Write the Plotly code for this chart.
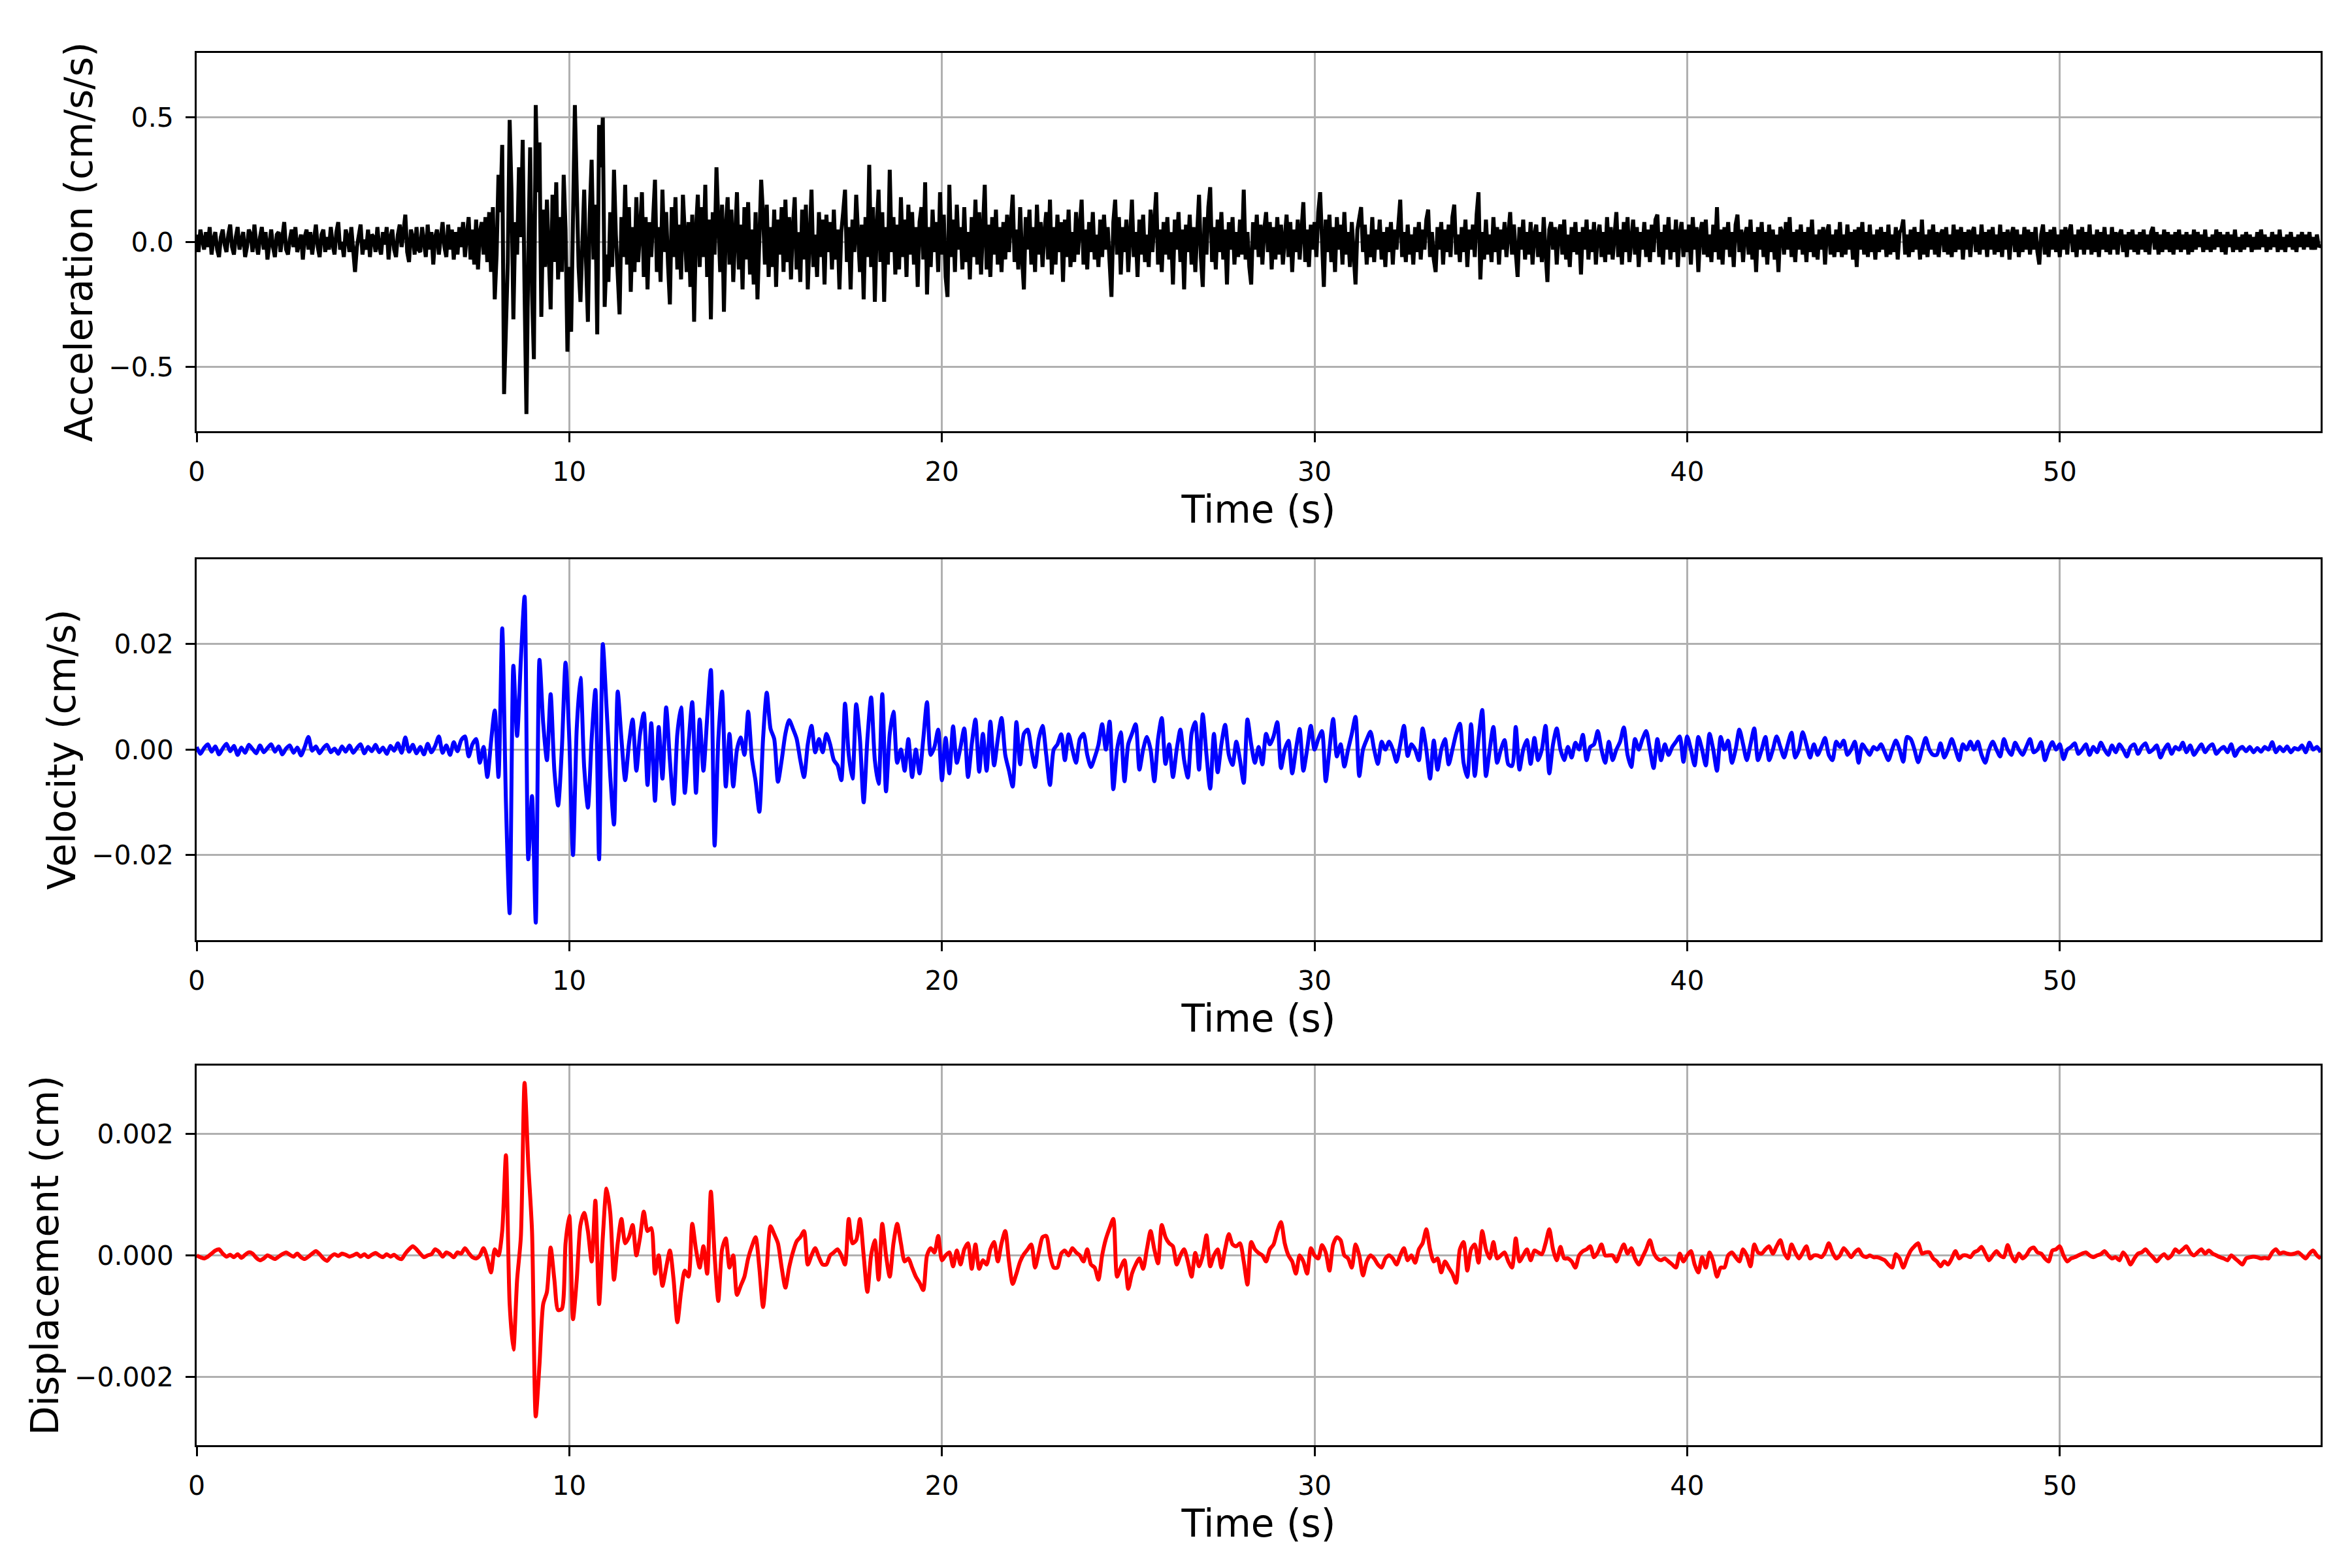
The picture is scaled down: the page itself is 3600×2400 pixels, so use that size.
import numpy as np
import plotly.graph_objects as go

# acceleration in 0.01 cm/s/s, one sample every 0.05 s (each row = 1 s)
acc_00_10 = [
    3, -4, 5, 0, -3, 4, -2, 6, -5, 1, 4, -3, -6, 2, 5, -1, -4, 3, 7, -2,
    -5, 2, 6, -3, 0, 4, -6, -2, 5, 3, -4, 7, -1, -5, 2, 6, -3, 4, -7, 1,
    5, -2, -6, 3, 4, -4, 2, 8, -3, -5, 1, 5, -2, 6, -4, 0, 3, -7, 2, 5,
    -3, 4, -5, 1, 7, -2, -6, 3, 5, -4, 2, -3, 6, -1, -5, 4, 8, -3, 0, -6,
    5, 2, -4, 6, -3, -12, -2, 4, 7, -5, 1, -3, 5, -6, 3, 2, -4, 6, -2, -5,
    4, -1, 6, -7, 2, 5, -3, -6, 3, 7, -2, 4, 11, -4, -8, 5, 2, -5, 6, -3,
    -4, 6, 1, -6, 7, -3, 4, -9, 2, 5, -5, 3, 8, -2, -6, 7, -3, 5, -7, 4,
    -5, 6, -2, 8, -6, 3, 10, -7, 5, -9, 9, -11, 4, 8, -5, 10, -8, 12, -12, 14,
    -23, -5, 27, 12, 39, -61, -35, -8, 49, 20, -31, 8, -5, 30, 2, 41, -20, -69, -5, 38,
    -20, -47, 55, 20, 40, -30, 13, -10, 17, -5, -27, 19, -8, 24, -15, 10, -12, 27, 5, -44,
]
acc_10_20 = [
    -10, -36, 20, 55, 22, -10, -24, 5, 21, -8, -32, 12, 33, -7, 15, -37, 47, 30, 50, -26,
    -5, -16, 12, -10, 29, 3, -12, -29, 10, -6, 23, -9, 14, -20, 6, -12, 18, -8, 5, 20,
    -14, 10, -19, 8, -6, 15, 25, -12, 6, -16, 21, -4, 12, -9, -25, 14, -6, 18, -11, 7,
    -15, 19, 4, -12, 8, -18, 11, -32, 5, 19, -10, 14, -6, 23, -14, 9, -31, 12, -5, 30,
    8, -12, 15, -28, 6, 18, -9, 13, -16, 4, 20, -11, 7, -19, 14, -7, 16, -13, 5, -17,
    12, -23, 4, 25, 11, -9, 15, -14, 6, -10, 13, -18, 9, -5, 14, -12, 17, -8, 10, -15,
    6, 18, -11, 4, -16, 13, -7, 15, -19, 8, 21, -10, 3, -14, 12, -6, 9, -17, 11, -4,
    8, -11, 13, -7, 5, -19, 4, 12, 21, -8, 6, -19, 9, -4, 19, 3, -12, 7, -23, 10,
    -6, 31, -10, 14, -24, 5, 21, -8, 12, -24, 6, -9, 29, -4, 10, -13, 7, -11, 18, -6,
    9, -14, 15, -5, 12, -9, 6, -18, 8, 14, -7, 24, -21, 6, -10, 13, -4, 8, -12, 20,
]
acc_20_30 = [
    -5, 11, -14, -22, 23, -6, 9, -12, 15, -3, 6, -11, 14, -8, 4, -15, 10, -6, 17, -9,
    12, -13, 5, 23, -11, 7, -14, 10, -5, 13, -9, 6, -12, 8, -7, 11, -4, 9, 19, -8,
    5, -11, 14, -6, -19, 10, -3, 13, -9, 6, -12, 15, -5, 8, -10, 4, 12, -7, 17, -13,
    6, -9, 11, -4, 8, -16, 9, -6, 13, -10, 4, -8, 12, -5, 7, 17, -9, 5, -11, 8,
    -4, 12, -7, 3, -10, 9, -6, 11, -3, 6, -8, -22, 8, 17, -5, 10, -13, 6, -4, 9,
    -12, 7, 17, -6, 4, -14, 9, -5, 11, -8, 3, -10, 13, -4, 6, 20, -9, 5, -12, 8,
    -5, 10, -7, 4, -17, 9, -3, 12, -8, 5, -19, 7, -4, 11, -9, 6, -12, 8, 19, -6,
    -18, 10, -5, 14, 22, -8, 6, -11, 9, -4, 12, -7, 5, -17, 8, -3, 10, -9, 4, -6,
    9, -5, 21, -7, 4, -10, -17, 8, -3, 11, -6, 7, -9, 5, 12, -4, 8, -11, 6, -7,
    10, -5, 7, -9, 4, 11, -6, 8, -12, 5, -4, 9, -7, 3, 16, -8, 5, -10, 7, -3,
]
acc_30_40 = [
    8, -6, 12, 20, -5, -18, 9, -4, 11, -8, 6, -12, 10, -3, 7, -9, 12, -5, 4, -10,
    8, -6, -17, 5, 9, 14, -4, 7, -9, 3, -6, 10, -8, 5, -3, 9, -7, 4, -10, 6,
    -4, 8, -9, 5, -3, 10, 17, -6, 4, -8, 7, -5, 3, -9, 6, -4, 8, -7, 5, -3,
    9, 13, -6, 4, -7, -12, 6, -3, 8, -9, 5, -4, 7, -6, 10, 15, -5, 3, -8, 6,
    -4, 9, -10, 5, -3, 7, -6, 11, 20, -15, 4, -7, 9, -5, 3, -8, 10, -4, 6, -9,
    5, -3, 8, -6, 4, 12, -5, 7, -4, -14, 6, -3, 9, -7, 4, -5, 8, -9, 3, 7,
    -6, 4, -8, 10, -4, -16, 5, 8, -3, 6, -9, 4, 7, -5, 9, -7, 3, -10, 6, -4,
    8, -5, 4, -13, 6, -3, 9, -7, 5, -4, 8, -9, 3, 7, -6, 4, -8, 10, -5, 6,
    -7, 4, 12, -6, 5, -9, 8, -4, 10, -8, 3, 9, -5, 6, -10, 4, -3, 8, -6, 5,
    -8, 7, -4, 9, 11, -6, 4, -9, 7, -3, 10, -7, 5, -4, 9, -10, 3, 8, -6, 5,
]
acc_40_50 = [
    -4, 7, -9, 10, -3, 6, -12, 4, 8, -5, 9, -6, 3, -8, 7, -4, 14, -7, 5, -9,
    6, -3, 8, -6, 4, -10, 7, 11, -4, 5, -8, 3, 6, -5, 9, -7, 4, -12, 6, -3,
    8, -6, 4, -9, 7, -4, 5, -7, 3, -12, 6, 4, -5, 8, -3, 10, -6, 4, -8, 5,
    -3, 7, -5, 4, -8, 6, -4, 9, -6, 3, -7, 5, -3, 6, -9, 4, 7, -5, 3, -6,
    5, -4, 8, -6, 3, -5, 7, -3, 4, -7, 5, -10, 6, -3, 8, -5, 4, -6, 7, -4,
    3, -7, 5, -4, 6, -3, 4, -6, 7, -5, 3, -4, 6, -7, 4, 5, 9, -5, 3, -6,
    5, -4, 6, -3, 4, -7, 9, -5, 3, -6, 5, -3, 7, -5, 4, -6, 3, 5, -4, 6,
    -5, 3, -6, 7, -4, 5, -3, 6, -7, 4, -3, 5, -6, 4, 6, -4, 3, -5, 7, -3,
    4, -6, 5, -3, 6, -5, 3, -4, 7, -6, 4, -3, 5, -7, 3, 6, -4, 5, -6, 3,
    -4, 6, -3, 5, -5, 4, -3, 6, -4, -9, 3, 7, -5, 4, -6, 5, -3, 6, -4, 3,
]
acc_50_57 = [
    -6, 5, -3, 6, -5, 4, 7, -4, 3, -6, 5, -3, 6, -5, 4, -3, 7, -5, 3, -4,
    5, -6, 4, -3, 6, -4, 3, -5, 6, -3, 4, -5, 3, 5, -4, 3, -6, 4, -3, 5,
    -4, 3, -5, 4, -3, 5, -4, 3, -5, 4, 6, -3, 4, -5, 3, -4, 5, -3, 4, -4,
    3, -5, 4, -3, 5, -4, 3, -3, 4, -5, 3, -4, 5, -3, 4, -2, 3, -4, 5, -3,
    2, -4, 3, -3, 5, -2, 4, -4, 3, -5, 4, -2, 3, -4, 5, -3, 2, -4, 3, -3,
    4, -2, 3, -4, 2, -3, 4, -3, 5, -2, 3, -4, 2, -3, 4, -2, 3, -4, 5, -3,
    2, -4, 3, -2, 4, -3, 2, -4, 3, -2, 4, -3, 3, -2, 4, -3, 2, -3, 3, -2,
    -1,
]

# velocity in 1e-4 cm/s, one sample every 0.1 s (each row = 1 s)
vel_00_10 = [
    5, -8, 3, 10, -4, 6, -9, 2, 11, -3,
    7, -10, 4, -6, 9, 1, -7, 8, -5, 3,
    10, -4, 6, -9, 2, 8, -6, 4, -11, 5,
    24, -2, 6, -7, 3, 9, -5, 2, -8, 6,
    -4, 8, -6, 3, 10, -7, 5, -3, 9, -5,
    4, -8, 7, -2, 12, -6, 23, -4, 9, -7,
    5, -9, 11, -5, 7, 25, -6, 8, -10, 14,
    -3, 18, 25, -13, 10, 20, -25, 5, -52, 15,
    74, -52, 230, -100, -310, 159, 26, 170, 290, -208,
    -88, -328, 170, 50, -20, 105, -40, -106, 0, 165,
]
vel_10_20 = [
    20, -200, 40, 136, -34, -110, 20, 113, -208, 200,
    80, -50, -142, 110, 20, -58, 10, 57, -40, 30,
    69, -67, 50, -97, 43, -55, 80, -20, -103, 30,
    80, -82, 10, 90, -82, 57, -40, 60, 151, -182,
    20, 110, -70, 30, -70, 0, 23, -10, 72, -16,
    -60, -118, 20, 108, 40, 20, -61, -20, 30, 56,
    40, 21, -20, -52, 10, 45, -5, 20, -5, 30,
    10, -20, -30, -58, 87, -10, -55, 86, 20, -100,
    20, 99, -20, -65, 105, -79, 30, 72, -25, 0,
    -40, 20, -52, 0, -45, 20, 90, -10, 5, 38,
]
vel_20_30 = [
    -58, 22, -45, 44, -25, 5, 40, -52, 10, 57,
    -42, 30, -40, 53, -30, 20, 60, -10, -40, -70,
    52, -28, 30, 38, 0, -33, 20, 45, -10, -67,
    0, 10, 29, -20, 29, 0, -25, 20, 30, -10,
    -33, -15, 9, 48, 0, 53, -75, 0, 33, -60,
    10, 30, 48, -38, 0, 24, 0, -60, 20, 60,
    -27, 10, -52, 0, 38, -20, -53, 30, 52, -38,
    67, -10, -74, 30, -43, 10, 47, -10, -29, 15,
    -20, -63, 57, 10, -25, 5, -28, 30, 10, 25,
    52, -35, 0, 17, -45, 0, 39, -40, 0, 45,
]
vel_30_40 = [
    0, 20, 35, -60, 0, 58, -13, 10, -32, 0,
    30, 62, -50, 0, 19, 34, 0, -27, 15, 0,
    15, 0, -23, 10, 45, -12, 10, 0, -20, 40,
    0, -55, 17, -38, 0, 20, -28, 0, 30, 49,
    -25, -52, 48, -50, 20, 75, -50, 0, 43, -25,
    0, 18, -28, -31, 43, -38, 0, 18, -27, 22,
    -20, 0, 45, -45, 10, 40, 0, -20, 5, -15,
    13, 0, 28, -20, 5, 10, 35, 0, -25, 15,
    -20, 0, 15, 42, -10, -33, 20, 0, 20, 35,
    0, -35, 20, -20, 10, -10, 5, 15, 25, -23,
]
vel_40_50 = [
    25, 0, -30, 24, 0, -30, 30, 0, -40, 24,
    0, 17, -25, 0, 38, 10, -20, 10, 40, -20,
    0, 24, -20, 0, 25, 5, -15, 10, 32, -15,
    0, 33, 10, -15, 10, -10, 5, 22, -10, -20,
    15, 5, 17, -10, 0, 15, -25, 10, 0, -10,
    5, 0, 10, -5, -20, 0, 17, 0, -23, 24,
    20, 0, -24, 0, 22, 0, -10, -10, 12, -15,
    0, 20, 0, -20, 10, 0, 15, 0, 15, -10,
    -25, 0, 15, 0, -13, 20, 0, -10, 13, 0,
    -10, 5, 20, -5, 0, 14, -20, 0, 14, 0,
]
vel_50_57 = [
    10, -18, 0, 5, 12, -8, 0, 10, -10, 5,
    -5, 13, 0, -10, 8, -5, 10, 0, -13, 5,
    10, -8, 5, 12, -5, 0, 8, -15, 0, 10,
    -8, 5, 0, 13, -5, 8, -10, 0, 10, -5,
    5, 10, -8, 0, 5, -5, 10, -12, 0, 5,
    -3, 5, -5, 3, -4, 5, 0, 14, -5, 5,
    -3, 6, -5, 3, 0, 8, -5, 13, 0, 5,
    -5,
]

# displacement in 1e-5 cm, one sample every 0.1 s (each row = 1 s)
disp_00_10 = [
    0, -3, -5, -2, 3, 8, 10, 3, -2, 1,
    -3, 2, -4, 1, 5, 3, -4, -8, -5, 0,
    -3, -6, -2, 2, 5, 1, -2, 3, -3, -6,
    -2, 3, 7, 2, -5, -9, -2, 2, -1, 3,
    1, -2, 0, 3, -2, 2, -3, 1, 4, 0,
    -3, 2, -2, 1, -4, -6, 3, 10, 15, 10,
    3, -3, 0, 2, 10, 6, -2, 5, 2, -3,
    5, 3, 12, 4, -3, -5, 0, 12, -5, -28,
    10, 0, 40, 165, -80, -155, -40, 30, 284, 150,
    40, -265, -180, -80, -60, 13, -40, -90, -88, 20,
]
disp_10_20 = [
    65, -105, -40, 50, 70, 40, -10, 90, -80, 30,
    110, 70, -40, 20, 60, 20, 30, 50, 0, 30,
    72, 40, 45, -30, 0, -50, -20, 8, -40, -110,
    -60, -25, -35, 52, 10, -20, 15, -30, 105, 0,
    -75, 10, 28, -20, 0, -65, -50, -35, -5, 15,
    30, -20, -85, -20, 48, 35, 20, -20, -53, -20,
    5, 23, 30, 40, -15, 0, 12, -3, -15, -15,
    0, 5, 10, 0, -15, 60, 20, 25, 60, 0,
    -60, 0, 25, -40, 52, 0, -35, 20, 52, 20,
    -10, -5, -20, -35, -45, -57, 0, 12, 5, 32,
]
disp_20_30 = [
    -8, 0, 5, -18, 8, -15, 10, 20, -22, 18,
    -22, -8, -15, 10, 22, -10, 20, 40, -10, -47,
    -30, -10, 2, 10, 18, -20, 5, 30, 32, 0,
    -20, -20, 3, 8, 0, 12, 5, 0, -10, 10,
    -15, -20, -40, 0, 27, 45, 60, -35, -20, -8,
    -55, -30, -15, -5, -22, 10, 40, 10, -13, 50,
    30, 20, 15, -15, 0, 10, -10, -35, 4, -18,
    0, 33, -18, 0, 10, -20, 10, 35, 18, 15,
    20, -10, -48, 22, 10, 4, 0, -10, 10, 18,
    40, 55, 20, 0, -10, -30, 0, -10, -30, 12,
]
disp_30_40 = [
    0, -5, 17, 5, -25, 18, 30, 25, 0, -5,
    -20, 18, 0, -33, -10, 0, -5, -15, -20, -5,
    0, -5, -15, 0, 12, -8, 0, -12, 10, 20,
    43, 10, -10, -5, -28, -10, -20, -30, -45, 10,
    22, -25, 10, 18, -12, 40, 10, -5, 22, -5,
    0, 5, -10, -20, 28, -10, 0, 10, -8, 8,
    5, 2, 20, 43, 10, -8, 14, -5, -5, -10,
    -20, 0, 7, 10, 15, -3, 5, 18, 0, 0,
    0, -10, 5, 18, 3, 12, -5, -15, -3, 10,
    25, 5, -5, -8, -5, -10, -15, -20, 3, -10,
]
disp_40_50 = [
    0, 7, -15, -28, -3, -20, 5, -10, -35, -20,
    -20, 0, 5, -3, -10, 10, 0, -18, 18, 5,
    3, 10, 15, 3, 15, 25, 5, -5, 18, 5,
    -5, 5, 15, -5, 0, 0, -3, 5, 20, 5,
    -5, 0, 12, 5, -3, 5, 10, 0, -3, 0,
    -3, -3, -5, -8, -15, -20, 2, -5, -20, -5,
    8, 15, 20, 3, 5, 5, -5, -10, -18, -10,
    -15, -5, 7, -5, 0, 0, -3, 5, 8, 14,
    3, -8, 0, 7, 0, -3, 17, 0, -10, 3,
    -5, 0, 10, 13, 5, 3, -5, -10, 8, 10,
]
disp_50_57 = [
    15, 0, -10, -5, -3, 0, 3, 5, 0, -3,
    0, 2, 7, 0, -5, -3, -8, 5, -3, -15,
    -5, 3, 5, 10, 3, -3, -10, -3, 2, -5,
    0, 10, 5, 10, 15, 5, 0, 5, 10, 3,
    8, 3, 0, -3, -5, -8, 0, -5, -10, -15,
    -5, -3, -2, -3, -5, -4, -5, 5, 10, 3,
    5, 3, 2, 3, 5, 0, -5, 3, 8, 0,
    -5,
]

dt_acc = 0.05
dt_vd = 0.1

acc = np.array(acc_00_10 + acc_10_20 + acc_20_30 + acc_30_40 + acc_40_50 + acc_50_57) / 100.0
vel = np.array(vel_00_10 + vel_10_20 + vel_20_30 + vel_30_40 + vel_40_50 + vel_50_57) / 1e4
disp = np.array(disp_00_10 + disp_10_20 + disp_20_30 + disp_30_40 + disp_40_50 + disp_50_57) / 1e5

t_acc = np.arange(len(acc)) * dt_acc
t_vel = np.arange(len(vel)) * dt_vd
t_disp = np.arange(len(disp)) * dt_vd

font = 'DejaVu Sans'

fig = go.Figure()
fig.add_trace(go.Scatter(x=t_acc, y=acc, mode='lines',
                         line=dict(color='black', width=6),
                         xaxis='x', yaxis='y', showlegend=False))
fig.add_trace(go.Scatter(x=t_vel, y=vel, mode='lines',
                         line=dict(color='blue', width=6, shape='spline', smoothing=0.7),
                         xaxis='x2', yaxis='y2', showlegend=False))
fig.add_trace(go.Scatter(x=t_disp, y=disp, mode='lines',
                         line=dict(color='red', width=6, shape='spline', smoothing=0.7),
                         xaxis='x3', yaxis='y3', showlegend=False))


def xax(anchor):
    return dict(
        anchor=anchor, domain=[0, 1],
        range=[0, 57],
        tickvals=[0, 10, 20, 30, 40, 50],
        ticks='outside', ticklen=14, tickwidth=3, tickcolor='black',
        ticklabelstandoff=10,
        tickfont=dict(family=font, size=41, color='black'),
        showline=True, linecolor='black', linewidth=3, mirror=True,
        showgrid=True, gridcolor='#b0b0b0', gridwidth=3, zeroline=False,
        title=dict(text='Time (s)', font=dict(family=font, size=58, color='black'),
                   standoff=10),
    )


def yax(anchor, dom, data, vals, fmt, label):
    lim = 1.1 * np.abs(data).max()
    return dict(
        anchor=anchor, domain=dom,
        range=[-lim, lim],
        tickvals=vals, tickformat=fmt,
        ticks='outside', ticklen=14, tickwidth=3, tickcolor='black',
        ticklabelstandoff=10,
        tickfont=dict(family=font, size=41, color='black'),
        showline=True, linecolor='black', linewidth=3, mirror=True,
        showgrid=True, gridcolor='#b0b0b0', gridwidth=3, zeroline=False,
        title=dict(text=label, font=dict(family=font, size=58, color='black'),
                   standoff=6),
    )


fig.update_layout(
    width=3600, height=2400,
    margin=dict(l=293, r=56, t=73, b=196),
    paper_bgcolor='white', plot_bgcolor='white',
    font=dict(family=font, color='black'),
    xaxis=xax('y'),
    xaxis2=xax('y2'),
    xaxis3=xax('y3'),
    yaxis=yax('x', [0.7283, 1.0], acc, [-0.5, 0, 0.5], '.1f', 'Acceleration (cm/s/s)'),
    yaxis2=yax('x2', [0.3629, 0.6363], vel, [-0.02, 0, 0.02], '.2f', 'Velocity (cm/s)'),
    yaxis3=yax('x3', [0.0, 0.2726], disp, [-0.002, 0, 0.002], '.3f', 'Displacement (cm)'),
)

fig.write_html("out.html")
